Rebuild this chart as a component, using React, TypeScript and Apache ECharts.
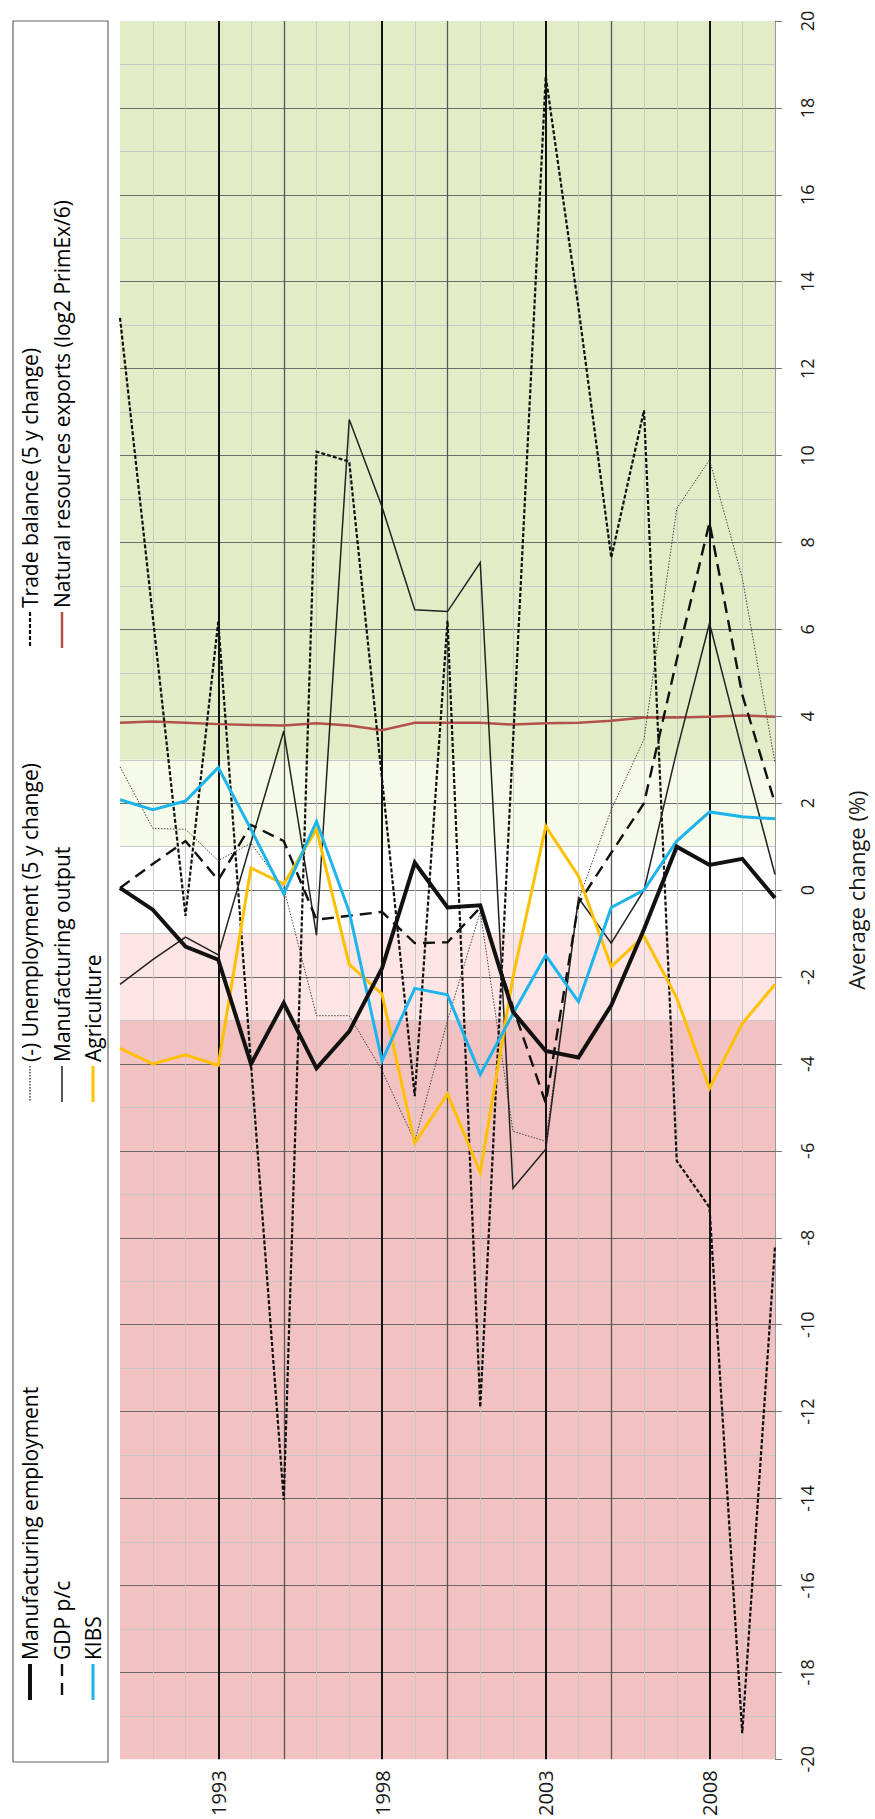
import React, { useEffect, useRef } from "react";
import * as echarts from "echarts";

// ---- data ----
const years = [
  "1990", "1991", "1992", "1993", "1994", "1995", "1996", "1997", "1998", "1999", "2000",
  "2001", "2002", "2003", "2004", "2005", "2006", "2007", "2008", "2009", "2010",
];
const labelYears = ["1993", "1998", "2003", "2008"];
const midYears = ["1995", "2000", "2005"];

const mfgEmployment = [0.05, -0.45, -1.3, -1.6, -4.0, -2.6, -4.1, -3.25, -1.8, 0.63, -0.4, -0.35, -2.8, -3.7, -3.85, -2.65, -0.9, 1.0, 0.58, 0.72, -0.18];
const gdpPc = [0.05, 0.6, 1.13, 0.23, 1.5, 1.13, -0.68, -0.59, -0.5, -1.22, -1.2, -0.4, -2.7, -4.9, -0.3, 0.86, 2.0, 5.3, 8.46, 4.5, 2.0];
const kibs = [2.08, 1.85, 2.05, 2.82, 1.4, -0.09, 1.58, -0.5, -3.93, -2.26, -2.41, -4.24, -2.84, -1.5, -2.57, -0.4, 0.0, 1.13, 1.8, 1.69, 1.64];
const unemployment = [2.84, 1.42, 1.4, 0.68, 1.08, 0.05, -2.89, -2.89, -4.15, -5.78, -3.0, -0.5, -5.55, -5.78, -0.23, 1.85, 3.47, 8.78, 9.9, 7.19, 2.93];
const mfgOutput = [-2.17, -1.6, -1.08, -1.49, 1.1, 3.66, -1.04, 10.83, 8.82, 6.45, 6.41, 7.54, -6.86, -5.96, -0.18, -1.22, 0.0, 3.2, 6.14, 3.2, 0.36];
const agriculture = [-3.64, -4.0, -3.79, -4.03, 0.51, 0.14, 1.4, -1.71, -2.39, -5.82, -4.69, -6.5, -2.0, 1.47, 0.32, -1.76, -1.06, -2.48, -4.56, -3.07, -2.17];
const tradeBalance = [13.17, 6.3, -0.59, 6.18, -4.0, -14.03, 10.09, 9.86, 2.56, -4.74, 6.2, -11.9, 3.4, 18.73, 13.4, 7.65, 11.04, -6.23, -7.3, -19.4, -8.2];
const naturalResources = [3.85, 3.88, 3.85, 3.82, 3.8, 3.79, 3.84, 3.79, 3.68, 3.85, 3.85, 3.85, 3.81, 3.84, 3.85, 3.9, 3.97, 3.97, 3.99, 4.02, 3.99];

const bandLimits = [[3, 20], [1, 3], [-1, 1], [-3, -1], [-20, -3]];
const yMin = -20;
const yMax = 20;

// ---- styles ----
const bandColors = ["#e2edc7", "#f6fae8", "#ffffff", "#fde5e5", "#f2c1c1"];
const FONT = "Open Sans";

const styles: Record<string, any> = {
  "Manufacturing employment": { color: "#111111", width: 4, type: "solid" },
  "GDP p/c": { color: "#111111", width: 2.4, type: [12, 7] },
  KIBS: { color: "#1db4ec", width: 3, type: "solid" },
  "(-) Unemployment (5 y change)": { color: "#444444", width: 1, type: [1.5, 1.5] },
  "Manufacturing output": { color: "#222222", width: 1.5, type: "solid" },
  Agriculture: { color: "#ffc000", width: 3, type: "solid" },
  "Trade balance (5 y change)": { color: "#111111", width: 2.2, type: [4, 2] },
  "Natural resources exports (log2 PrimEx/6)": { color: "#b3504a", width: 2.5, type: "solid" },
};

const seriesDefs: [string, number[]][] = [
  ["Natural resources exports (log2 PrimEx/6)", naturalResources],
  ["(-) Unemployment (5 y change)", unemployment],
  ["Trade balance (5 y change)", tradeBalance],
  ["Manufacturing output", mfgOutput],
  ["GDP p/c", gdpPc],
  ["Agriculture", agriculture],
  ["KIBS", kibs],
  ["Manufacturing employment", mfgEmployment],
];

// legend columns (rotated chart): groups of names
const legendGroups = [
  { textEnd: 1660, names: ["Manufacturing employment", "GDP p/c", "KIBS"] },
  { textEnd: 1062, names: ["(-) Unemployment (5 y change)", "Manufacturing output", "Agriculture"] },
  { textEnd: 608, names: ["Trade balance (5 y change)", "Natural resources exports (log2 PrimEx/6)"] },
];
const legendCols = [30, 62, 93];

export default function App() {
  const ref = useRef<HTMLDivElement>(null);

  useEffect(() => {
    document.body.style.margin = "0";
    if (!ref.current) return;
    const chart = echarts.init(ref.current, undefined, { renderer: "svg" });

    const legendGraphics: any[] = [
      {
        type: "rect",
        shape: { x: 13, y: 21, width: 95, height: 1741 },
        style: { fill: "#ffffff", stroke: "#666666", lineWidth: 1.2 },
        z: 10,
      },
    ];
    legendGroups.forEach((g) => {
      g.names.forEach((name, i) => {
        const st = styles[name];
        const x = legendCols[i];
        legendGraphics.push({
          type: "line",
          shape: { x1: x, y1: g.textEnd + 4, x2: x, y2: g.textEnd + 40 },
          style: {
            stroke: st.color,
            lineWidth: Math.max(st.width, 1.5),
            lineDash: Array.isArray(st.type) ? st.type : null,
          },
          z: 11,
        });
        legendGraphics.push({
          type: "text",
          x: x,
          y: g.textEnd,
          rotation: Math.PI / 2,
          style: {
            text: name,
            fontFamily: FONT,
            fontSize: 21,
            fill: "#000000",
            align: "left",
            verticalAlign: "middle",
          },
          z: 11,
        });
      });
    });

    // grid lines drawn above the coloured bands
    const gridLines: any[] = [];
    for (let v = yMin + 1; v < yMax; v++) {
      gridLines.push({
        yAxis: v,
        lineStyle: v % 2 === 0
          ? { color: "#555555", width: 1.1, type: "solid", opacity: 0.85 }
          : { color: "#c4c4c4", width: 1, type: "solid", opacity: 0.9 },
      });
    }
    years.slice(1, years.length - 1).forEach((y) => {
      let ls: any = { color: "#c4c4c4", width: 1, type: "solid", opacity: 0.9 };
      if (midYears.includes(y)) ls = { color: "#555555", width: 1.3, type: "solid" };
      if (labelYears.includes(y)) ls = { color: "#111111", width: 2, type: "solid" };
      gridLines.push({ xAxis: y, lineStyle: ls });
    });

    const option: any = {
      animation: false,
      backgroundColor: "#ffffff",
      textStyle: { fontFamily: FONT },
      grid: { left: 120, right: 98, top: 21, bottom: 54, containLabel: false },
      xAxis: {
        type: "category",
        data: years,
        boundaryGap: false,
        axisLine: { show: true, lineStyle: { color: "#999999", width: 1 } },
        axisTick: {
          show: true,
          interval: (i: number) => i % 5 === 0,
          length: 7,
          lineStyle: { color: "#999999" },
        },
        axisLabel: {
          interval: (_i: number, v: string) => labelYears.includes(v),
          rotate: 90,
          fontSize: 20,
          fontFamily: FONT,
          color: "#1a1a1a",
          margin: 11,
        },
        splitLine: { show: false },
      },
      yAxis: {
        type: "value",
        position: "right",
        min: yMin,
        max: yMax,
        interval: 2,
        axisLine: { show: true, lineStyle: { color: "#999999" } },
        axisTick: { show: true, length: 7, lineStyle: { color: "#777777" } },
        splitLine: { show: false },
        axisLabel: {
          rotate: 90,
          fontSize: 18,
          fontFamily: FONT,
          color: "#1a1a1a",
          margin: 23,
        },
        name: "Average change (%)",
        nameLocation: "middle",
        nameRotate: 90,
        nameGap: 70,
        nameTextStyle: { fontSize: 22, fontFamily: FONT, color: "#1a1a1a" },
      },
      graphic: legendGraphics,
      series: [
        {
          name: "bands",
          type: "line",
          data: years.map(() => null),
          z: 0,
          silent: true,
          markArea: {
            silent: true,
            z: 1,
            data: bandLimits.map((b, i) => [
              { yAxis: b[0], itemStyle: { color: bandColors[i] } },
              { yAxis: b[1] },
            ]),
          },
        },
        {
          name: "gridlines",
          type: "line",
          data: years.map(() => null),
          z: 1,
          silent: true,
          markLine: {
            silent: true,
            z: 2,
            symbol: "none",
            label: { show: false },
            data: gridLines,
          },
        },
        ...seriesDefs.map(([name, data], idx) => ({
          name,
          type: "line",
          data,
          symbol: "none",
          z: 3 + idx,
          lineStyle: {
            color: styles[name].color,
            width: styles[name].width,
            type: styles[name].type,
            cap: "butt",
            join: "miter",
          },
          itemStyle: { color: styles[name].color },
        })),
      ],
    };

    chart.setOption(option);
    return () => chart.dispose();
  }, []);

  return <div ref={ref} style={{ width: 875, height: 1819 }} />;
}
